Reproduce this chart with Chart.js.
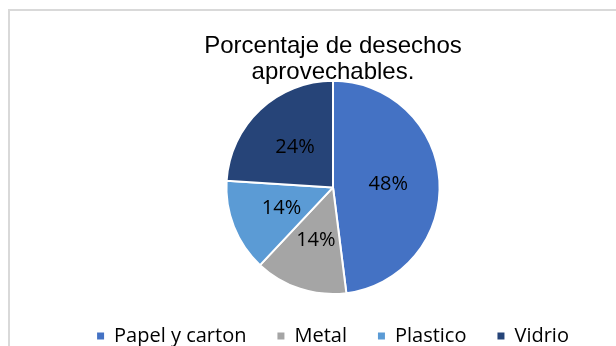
<!DOCTYPE html>
<html lang="es">
<head>
  <meta charset="UTF-8" />
  <title>Porcentaje de desechos aprovechables</title>
  <script src="https://cdn.jsdelivr.net/npm/chart.js"></script>
  <style>
    * {
      box-sizing: border-box;
      margin: 0;
      padding: 0;
    }

    html, body {
      width: 616px;
      height: 346px;
      overflow: hidden;
      background: #fff;
    }

    .frame {
      position: absolute;
      left: 8px;
      top: 9px;
      border: 2px solid #d9d9d9;
    }

    canvas {
      display: block;
    }
  </style>
</head>
<body>
  <div class="frame">
    <canvas id="wasteChart" width="646" height="345"></canvas>
  </div>

  <script>
    // Data
    const categories = ['Papel y carton', 'Metal', 'Plastico', 'Vidrio'];
    const percentages = [48, 14, 14, 24];
    const sliceColors = ['#4472C4', '#A5A5A5', '#5B9BD5', '#264478'];
    const titleLines = ['Porcentaje de desechos', 'aprovechables.'];

    // draws "48%" etc. inside each slice
    const sliceLabels = {
      id: 'sliceLabels',
      afterDatasetsDraw(chart) {
        const ctx = chart.ctx;
        const meta = chart.getDatasetMeta(0);
        ctx.save();
        ctx.font = '20px "Open Sans", sans-serif';
        ctx.fillStyle = '#000';
        ctx.textAlign = 'center';
        ctx.textBaseline = 'middle';
        meta.data.forEach(function (arc, i) {
          const p = arc.getProps(['x', 'y', 'startAngle', 'endAngle', 'outerRadius'], true);
          const mid = (p.startAngle + p.endAngle) / 2;
          const r = p.outerRadius * 0.52;
          ctx.fillText(percentages[i] + '%', p.x + Math.cos(mid) * r, p.y + Math.sin(mid) * r);
        });
        ctx.restore();
      }
    };

    new Chart(document.getElementById('wasteChart').getContext('2d'), {
      type: 'pie',
      data: {
        labels: categories,
        datasets: [{
          data: percentages,
          backgroundColor: sliceColors,
          borderColor: '#ffffff',
          borderWidth: 2
        }]
      },
      options: {
        responsive: false,
        animation: false,
        plugins: {
          title: {
            display: true,
            text: titleLines,
            color: '#000',
            font: { family: '"Liberation Sans", Arial, sans-serif', size: 24, weight: 'normal', lineHeight: 1.1 },
            padding: { top: 22, bottom: -6 }
          },
          legend: {
            position: 'bottom',
            labels: {
              color: '#000',
              font: { family: '"Open Sans", sans-serif', size: 20 },
              boxWidth: 7,
              boxHeight: 7,
              padding: 31,
              generateLabels: function (chart) {
                const items = Chart.overrides.doughnut.plugins.legend.labels.generateLabels(chart);
                items.forEach(function (it) { it.lineWidth = 0; });
                return items;
              }
            }
          },
          tooltip: { enabled: false }
        }
      },
      plugins: [sliceLabels]
    });
  </script>
</body>
</html>
